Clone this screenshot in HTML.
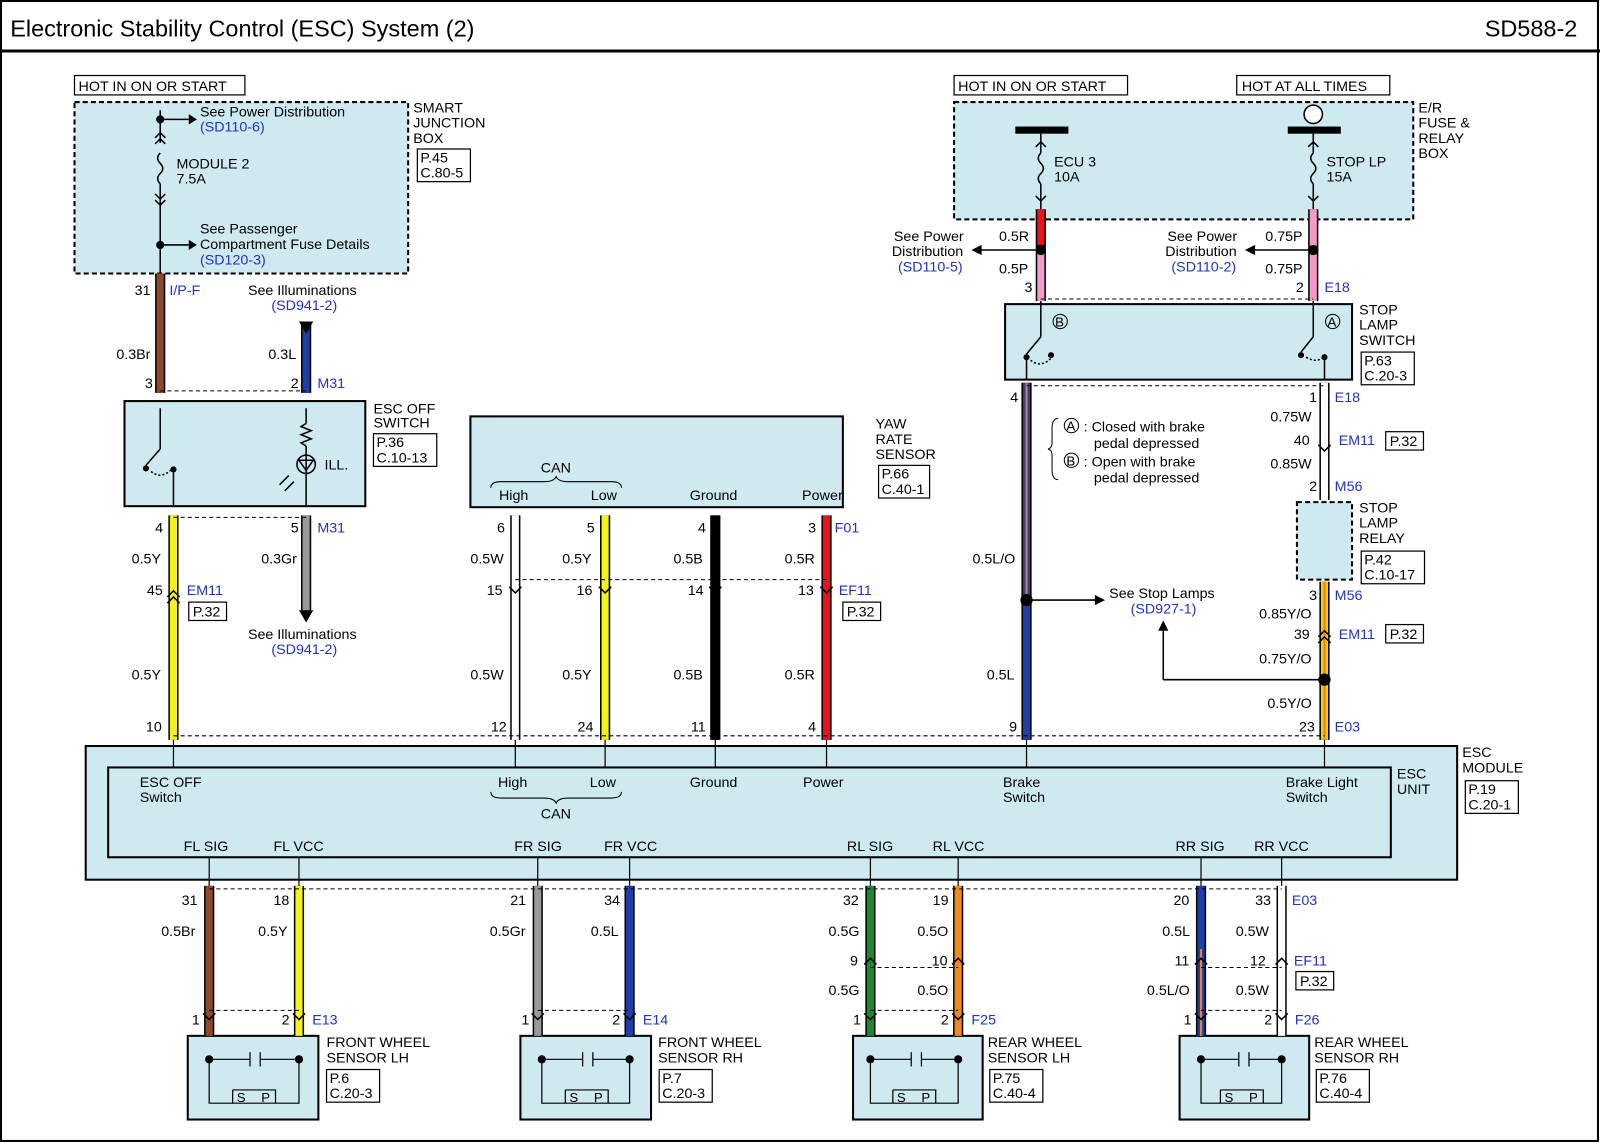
<!DOCTYPE html>
<html><head><meta charset="utf-8"><style>
html,body{margin:0;padding:0;background:#fff}
svg{display:block}
text{font-family:"Liberation Sans",Arial,sans-serif;font-size:14px;fill:#000}
.b{fill:#2233bb}
.s{font-size:13px}
</style></head><body>
<svg width="1600" height="1143" viewBox="0 0 1568 1120" preserveAspectRatio="none" xmlns="http://www.w3.org/2000/svg">
<rect x="1" y="1" width="1565" height="1117" fill="#fff" stroke="#000" stroke-width="2"/>
<text x="10" y="36" style="font-size:23px">Electronic Stability Control (ESC) System (2)</text>
<text x="1455" y="36" style="font-size:23px">SD588-2</text>
<line x1="0" y1="50" x2="1568" y2="50" stroke="#000" stroke-width="3"/>

<g fill="#cfe9f1" stroke="#000" stroke-width="2">
<rect x="73" y="100" width="327" height="168" stroke-dasharray="5,3"/>
<rect x="935" y="100" width="450" height="115" stroke-dasharray="5,3"/>
<rect x="122" y="393" width="236" height="103"/>
<rect x="461" y="408" width="365" height="89"/>
<rect x="985" y="298" width="340" height="74"/>
<rect x="1271" y="492" width="54" height="76" stroke-dasharray="5,3"/>
<rect x="84" y="731" width="1344" height="131"/>
<rect x="106" y="752" width="1257" height="88"/>
<rect x="184" y="1015" width="128" height="82"/>
<rect x="510" y="1015" width="128" height="82"/>
<rect x="836" y="1015" width="127" height="82"/>
<rect x="1156" y="1015" width="127" height="82"/>
</g>
<g fill="#fff" stroke="#000" stroke-width="1.2">
<rect x="73" y="74" width="167" height="19"/>
<rect x="935" y="74" width="170" height="19"/>
<rect x="1212" y="74" width="150" height="19"/>
<rect x="409" y="146" width="52" height="32"/>
<rect x="366" y="425" width="62" height="32"/>
<rect x="861" y="456" width="50" height="32"/>
<rect x="1334" y="345" width="52" height="32"/>
<rect x="1334" y="540" width="62" height="32"/>
<rect x="185" y="590" width="37" height="18"/>
<rect x="826" y="590" width="37" height="18"/>
<rect x="1358" y="423" width="37" height="18"/>
<rect x="1358" y="612" width="37" height="18"/>
<rect x="1436" y="765" width="52" height="32"/>
<rect x="1270" y="952" width="37" height="18"/>
<rect x="320" y="1048" width="52" height="32"/>
<rect x="646" y="1048" width="52" height="32"/>
<rect x="970" y="1048" width="52" height="32"/>
<rect x="1290" y="1048" width="52" height="32"/>
</g>
<text x="77" y="89">HOT IN ON OR START</text>
<text x="939" y="89">HOT IN ON OR START</text>
<text x="1217" y="89">HOT AT ALL TIMES</text>
<g class="s">
<text x="412" y="159">P.45</text><text x="412" y="174">C.80-5</text>
<text x="369" y="438">P.36</text><text x="369" y="453">C.10-13</text>
<text x="864" y="469">P.66</text><text x="864" y="484">C.40-1</text>
<text x="1337" y="358">P.63</text><text x="1337" y="373">C.20-3</text>
<text x="1337" y="553">P.42</text><text x="1337" y="568">C.10-17</text>
<text x="189" y="604">P.32</text><text x="830" y="604">P.32</text>
<text x="1362" y="437">P.32</text><text x="1362" y="626">P.32</text>
<text x="1439" y="778">P.19</text><text x="1439" y="793">C.20-1</text>
<text x="1274" y="966">P.32</text>
<text x="323" y="1061">P.6</text><text x="323" y="1076">C.20-3</text>
<text x="649" y="1061">P.7</text><text x="649" y="1076">C.20-3</text>
<text x="973" y="1061">P.75</text><text x="973" y="1076">C.40-4</text>
<text x="1293" y="1061">P.76</text><text x="1293" y="1076">C.40-4</text>
</g>
<text x="405" y="110">SMART</text><text x="405" y="125">JUNCTION</text><text x="405" y="140">BOX</text>
<text x="366" y="405">ESC OFF</text><text x="366" y="419">SWITCH</text>
<text x="858" y="420">YAW</text><text x="858" y="435">RATE</text><text x="858" y="450">SENSOR</text>
<text x="1390" y="110">E/R</text><text x="1390" y="125">FUSE &amp;</text><text x="1390" y="140">RELAY</text><text x="1390" y="155">BOX</text>
<text x="1332" y="308">STOP</text><text x="1332" y="323">LAMP</text><text x="1332" y="338">SWITCH</text>
<text x="1332" y="502">STOP</text><text x="1332" y="517">LAMP</text><text x="1332" y="532">RELAY</text>
<text x="1433" y="742">ESC</text><text x="1433" y="757">MODULE</text>
<text x="1369" y="763">ESC</text><text x="1369" y="778">UNIT</text>
<text x="320" y="1026">FRONT WHEEL</text><text x="320" y="1041">SENSOR LH</text>
<text x="645" y="1026">FRONT WHEEL</text><text x="645" y="1041">SENSOR RH</text>
<text x="968" y="1026">REAR WHEEL</text><text x="968" y="1041">SENSOR LH</text>
<text x="1288" y="1026">REAR WHEEL</text><text x="1288" y="1041">SENSOR RH</text>

<g stroke="#000" stroke-width="1.5" fill="none">
<line x1="157" y1="108" x2="157" y2="140"/><path d="M157 150 q-5 5 0 10 q5 5 0 10 q-5 5 0 10"/>
<line x1="157" y1="180" x2="157" y2="268"/>
<path d="M152 135 l5 -5 l5 5 M152 141 l5 -5 l5 5 M152 190 l5 5 l5 -5 M152 196 l5 5 l5 -5"/>
<line x1="157" y1="117" x2="185" y2="117"/><line x1="157" y1="240" x2="185" y2="240"/>
</g>
<circle cx="157" cy="117" r="4"/><circle cx="157" cy="240" r="4"/>
<path d="M185 112 l8 5 l-8 5z M185 235 l8 5 l-8 5z"/>
<text x="196" y="114">See Power Distribution</text><text class="b" x="196" y="129">(SD110-6)</text>
<text x="173" y="165">MODULE 2</text><text x="173" y="180">7.5A</text>
<text x="196" y="229">See Passenger</text><text x="196" y="244">Compartment Fuse Details</text><text class="b" x="196" y="259">(SD120-3)</text>

<rect x="995" y="124" width="52" height="7"/><rect x="1262" y="124" width="52" height="7"/>
<circle cx="1287" cy="112" r="9" fill="#fff" stroke="#000" stroke-width="1.5"/>
<g stroke="#000" stroke-width="1.5" fill="none">
<line x1="1020" y1="131" x2="1020" y2="150"/><path d="M1020 150 q-5 5 0 10 q5 5 0 10 q-5 5 0 10"/><line x1="1020" y1="180" x2="1020" y2="205"/>
<line x1="1287" y1="131" x2="1287" y2="150"/><path d="M1287 150 q-5 5 0 10 q5 5 0 10 q-5 5 0 10"/><line x1="1287" y1="180" x2="1287" y2="205"/>
<path d="M1015 144 l5 -5 l5 5 M1015 192 l5 5 l5 -5 M1282 144 l5 -5 l5 5 M1282 192 l5 5 l5 -5"/>
</g>
<text x="1033" y="163">ECU 3</text><text x="1033" y="178">10A</text>
<text x="1300" y="163">STOP LP</text><text x="1300" y="178">15A</text>

<g stroke-linecap="butt">
<g stroke="#000" stroke-width="10">
<line x1="157" y1="268" x2="157" y2="385"/><line x1="300" y1="318" x2="300" y2="385"/>
<line x1="170" y1="505" x2="170" y2="725"/><line x1="300" y1="505" x2="300" y2="598"/>
<line x1="505" y1="505" x2="505" y2="725"/><line x1="593" y1="505" x2="593" y2="725"/>
<line x1="701" y1="505" x2="701" y2="725"/><line x1="810" y1="505" x2="810" y2="725"/>
<line x1="1020" y1="205" x2="1020" y2="295"/><line x1="1287" y1="205" x2="1287" y2="295"/>
<line x1="1006" y1="375" x2="1006" y2="725"/><line x1="1298" y1="375" x2="1298" y2="490"/>
<line x1="1298" y1="570" x2="1298" y2="725"/>
<line x1="205" y1="868" x2="205" y2="1015"/><line x1="293" y1="868" x2="293" y2="1015"/>
<line x1="527" y1="868" x2="527" y2="1015"/><line x1="617" y1="868" x2="617" y2="1015"/>
<line x1="853" y1="868" x2="853" y2="1015"/><line x1="939" y1="868" x2="939" y2="1015"/>
<line x1="1177" y1="868" x2="1177" y2="1015"/><line x1="1256" y1="868" x2="1256" y2="1015"/>
</g>
<g stroke-width="7">
<line x1="157" y1="268" x2="157" y2="385" stroke="#8b4a2b"/><line x1="300" y1="318" x2="300" y2="385" stroke="#1f3fa8"/>
<line x1="170" y1="505" x2="170" y2="725" stroke="#f5f020"/><line x1="300" y1="505" x2="300" y2="598" stroke="#9a9a9a"/>
<line x1="505" y1="505" x2="505" y2="725" stroke="#fff"/><line x1="593" y1="505" x2="593" y2="725" stroke="#f5f020"/>
<line x1="701" y1="505" x2="701" y2="725" stroke="#000"/><line x1="810" y1="505" x2="810" y2="725" stroke="#e8141a"/>
<line x1="1020" y1="205" x2="1020" y2="240" stroke="#e8141a"/><line x1="1020" y1="248" x2="1020" y2="295" stroke="#f29ac8"/>
<line x1="1287" y1="205" x2="1287" y2="295" stroke="#f29ac8"/>
<line x1="1006" y1="375" x2="1006" y2="588" stroke="#1f3fa8"/><line x1="1006" y1="375" x2="1006" y2="588" stroke="#e8841a" stroke-width="2"/>
<line x1="1006" y1="592" x2="1006" y2="725" stroke="#1f3fa8"/>
<line x1="1298" y1="375" x2="1298" y2="490" stroke="#fff"/>
<line x1="1298" y1="570" x2="1298" y2="725" stroke="#f5c81a"/><line x1="1298" y1="570" x2="1298" y2="725" stroke="#e8841a" stroke-width="2"/>
<line x1="205" y1="868" x2="205" y2="1015" stroke="#8b4a2b"/><line x1="293" y1="868" x2="293" y2="1015" stroke="#f5f020"/>
<line x1="527" y1="868" x2="527" y2="1015" stroke="#9a9a9a"/><line x1="617" y1="868" x2="617" y2="1015" stroke="#1f3fa8"/>
<line x1="853" y1="868" x2="853" y2="1015" stroke="#1b8a2e"/><line x1="939" y1="868" x2="939" y2="1015" stroke="#f08a1a"/>
<line x1="1177" y1="868" x2="1177" y2="1015" stroke="#1f3fa8"/><line x1="1177" y1="930" x2="1177" y2="1015" stroke="#e8841a" stroke-width="2"/>
<line x1="1256" y1="868" x2="1256" y2="1015" stroke="#fff"/>
</g>
</g>
<path d="M293 315 l7 12 l7 -12z M293 598 l7 12 l7 -12z"/>
<g stroke="#000" stroke-width="1" stroke-dasharray="4,3">
<line x1="157" y1="383" x2="300" y2="383"/><line x1="170" y1="507" x2="300" y2="507"/>
<line x1="505" y1="568" x2="810" y2="568"/><line x1="170" y1="721" x2="1298" y2="721"/>
<line x1="1006" y1="378" x2="1298" y2="378"/><line x1="1020" y1="293" x2="1287" y2="293"/>
<line x1="205" y1="871" x2="1256" y2="871"/><line x1="853" y1="948" x2="939" y2="948"/>
<line x1="1177" y1="948" x2="1256" y2="948"/>
<line x1="205" y1="990" x2="293" y2="990"/><line x1="527" y1="990" x2="617" y2="990"/>
<line x1="853" y1="990" x2="939" y2="990"/><line x1="1177" y1="990" x2="1256" y2="990"/>
</g>
<g stroke="#000" stroke-width="1.5" fill="none">
<path d="M164 585 l6 -6 l6 6 M164 591 l6 -6 l6 6 M499 575 l6 6 l6 -6 M587 575 l6 6 l6 -6 M695 575 l6 6 l6 -6 M804 575 l6 6 l6 -6"/>
<path d="M1292 436 l6 6 l6 -6 M1292 630 l6 -6 l6 6 M1292 624 l6 -6 l6 6"/>
<path d="M847 945 l6 -6 l6 6 M933 945 l6 -6 l6 6 M1171 945 l6 -6 l6 6 M1250 945 l6 -6 l6 6"/>
<path d="M199 993 l6 6 l6 -6 M287 993 l6 6 l6 -6 M521 993 l6 6 l6 -6 M611 993 l6 6 l6 -6 M847 993 l6 6 l6 -6 M933 993 l6 6 l6 -6 M1171 993 l6 6 l6 -6 M1250 993 l6 6 l6 -6"/>
</g>
<g stroke="#000" stroke-width="1.2">
<line x1="170" y1="725" x2="170" y2="752"/><line x1="505" y1="725" x2="505" y2="752"/><line x1="593" y1="725" x2="593" y2="752"/>
<line x1="701" y1="725" x2="701" y2="752"/><line x1="810" y1="725" x2="810" y2="752"/><line x1="1006" y1="725" x2="1006" y2="752"/><line x1="1298" y1="725" x2="1298" y2="752"/>
<line x1="205" y1="840" x2="205" y2="868"/><line x1="293" y1="840" x2="293" y2="868"/><line x1="527" y1="840" x2="527" y2="868"/><line x1="617" y1="840" x2="617" y2="868"/>
<line x1="853" y1="840" x2="853" y2="868"/><line x1="939" y1="840" x2="939" y2="868"/><line x1="1177" y1="840" x2="1177" y2="868"/><line x1="1256" y1="840" x2="1256" y2="868"/>
</g>
<circle cx="1020" cy="245" r="5"/><circle cx="1287" cy="245" r="5"/><circle cx="1006" cy="588" r="6"/><circle cx="1298" cy="666" r="6"/>
<g stroke="#000" stroke-width="1.5"><line x1="960" y1="245" x2="1015" y2="245"/><line x1="1228" y1="245" x2="1282" y2="245"/>
<line x1="1006" y1="588" x2="1075" y2="588"/><line x1="1298" y1="666" x2="1140" y2="666"/><line x1="1140" y1="666" x2="1140" y2="618"/></g>
<path d="M952 245 l10 -5 v10z M1220 245 l10 -5 v10z M1083 588 l-10 -5 v10z M1140 608 l-5 10 h10z"/>

<text x="132" y="289">31</text><text class="b" x="166" y="289">I/P-F</text>
<text x="243" y="289">See Illuminations</text><text class="b" x="266" y="304">(SD941-2)</text>
<text x="114" y="352">0.3Br</text><text x="263" y="352">0.3L</text>
<text x="142" y="380">3</text><text x="285" y="380">2</text><text class="b" x="311" y="380">M31</text>
<text x="152" y="522">4</text><text x="285" y="522">5</text><text class="b" x="311" y="522">M31</text>
<text x="129" y="552">0.5Y</text><text x="256" y="552">0.3Gr</text>
<text x="144" y="583">45</text><text class="b" x="183" y="583">EM11</text>
<text x="243" y="626">See Illuminations</text><text class="b" x="266" y="641">(SD941-2)</text>
<text x="129" y="666">0.5Y</text><text x="143" y="717">10</text>
<text x="487" y="522">6</text><text x="575" y="522">5</text><text x="684" y="522">4</text><text x="792" y="522">3</text><text class="b" x="818" y="522">F01</text>
<text x="461" y="552">0.5W</text><text x="551" y="552">0.5Y</text><text x="660" y="552">0.5B</text><text x="769" y="552">0.5R</text>
<text x="477" y="583">15</text><text x="565" y="583">16</text><text x="674" y="583">14</text><text x="782" y="583">13</text><text class="b" x="822" y="583">EF11</text>
<text x="461" y="666">0.5W</text><text x="551" y="666">0.5Y</text><text x="660" y="666">0.5B</text><text x="769" y="666">0.5R</text>
<text x="481" y="717">12</text><text x="566" y="717">24</text><text x="677" y="717">11</text><text x="792" y="717">4</text>
<text x="530" y="463">CAN</text><text x="489" y="490">High</text><text x="579" y="490">Low</text><text x="676" y="490">Ground</text><text x="786" y="490" textLength="40">Power</text>
<path d="M481 478 q0 -6 10 -6 h42 q10 0 12 -5 q2 5 12 5 h42 q10 0 10 6" fill="none" stroke="#000"/>
<text x="876" y="236">See Power</text><text x="874" y="251">Distribution</text><text class="b" x="880" y="266">(SD110-5)</text>
<text x="979" y="236">0.5R</text><text x="979" y="268">0.5P</text><text x="1004" y="286">3</text>
<text x="1144" y="236">See Power</text><text x="1142" y="251">Distribution</text><text class="b" x="1148" y="266">(SD110-2)</text>
<text x="1240" y="236">0.75P</text><text x="1240" y="268">0.75P</text><text x="1270" y="286">2</text><text class="b" x="1298" y="286">E18</text>
<text x="990" y="394">4</text><text x="1283" y="394">1</text><text class="b" x="1308" y="394">E18</text>
<text x="1245" y="413">0.75W</text><text x="1268" y="436">40</text><text class="b" x="1312" y="436">EM11</text>
<text x="1245" y="459">0.85W</text><text x="1283" y="481">2</text><text class="b" x="1308" y="481">M56</text>
<text x="1283" y="588">3</text><text class="b" x="1308" y="588">M56</text>
<text x="1234" y="606">0.85Y/O</text><text x="1268" y="626">39</text><text class="b" x="1312" y="626">EM11</text>
<text x="1234" y="650">0.75Y/O</text><text x="1242" y="694">0.5Y/O</text>
<text x="1273" y="717">23</text><text class="b" x="1308" y="717">E03</text>
<text x="953" y="552">0.5L/O</text><text x="967" y="666">0.5L</text><text x="989" y="717">9</text>
<text x="1087" y="586">See Stop Lamps</text><text class="b" x="1108" y="601">(SD927-1)</text>
<path d="M1037 410 q-6 0 -6 10 v14 q0 5 -4 6 q4 1 4 6 v14 q0 10 6 10" fill="none" stroke="#000"/>
<circle cx="1050" cy="417" r="7" fill="none" stroke="#000"/><text x="1045" y="422" class="s">A</text>
<text x="1062" y="423">: Closed with brake</text><text x="1072" y="439">pedal depressed</text>
<circle cx="1050" cy="451" r="7" fill="none" stroke="#000"/><text x="1045" y="456" class="s">B</text>
<text x="1062" y="457">: Open with brake</text><text x="1072" y="473">pedal depressed</text>
<g stroke="#000" stroke-width="1.5" fill="none">
<line x1="157" y1="400" x2="157" y2="440"/><line x1="157" y1="440" x2="143" y2="456"/><path d="M148 462 q10 8 20 -2" stroke-dasharray="2,2"/>
<line x1="170" y1="463" x2="170" y2="496"/><line x1="300" y1="400" x2="300" y2="415"/>
<path d="M300 415 l-5 3 l10 4 l-10 4 l10 4 l-10 4 l5 3"/><line x1="300" y1="437" x2="300" y2="496"/>
<circle cx="300" cy="455" r="9"/><path d="M293 451 h14 l-7 10z"/>
<path d="M283 466 l-9 9 M288 472 l-9 9"/>
<line x1="1020" y1="295" x2="1020" y2="330"/><line x1="1020" y1="330" x2="1006" y2="347"/><path d="M1010 353 q10 8 20 -2" stroke-dasharray="2,2"/><line x1="1006" y1="350" x2="1006" y2="372"/>
<line x1="1287" y1="295" x2="1287" y2="330"/><line x1="1287" y1="330" x2="1275" y2="345"/><path d="M1280 350 q10 6 17 0" stroke-dasharray="2,2"/><line x1="1298" y1="350" x2="1298" y2="372"/>
</g>
<circle cx="143" cy="459" r="3"/><circle cx="170" cy="460" r="3"/><circle cx="1006" cy="350" r="3"/><circle cx="1030" cy="348" r="3"/><circle cx="1275" cy="348" r="3"/><circle cx="1298" cy="350" r="3"/>
<text x="318" y="460">ILL.</text>
<circle cx="1039" cy="315" r="7" fill="none" stroke="#000"/><text x="1034" y="320" class="s">B</text>
<circle cx="1306" cy="315" r="7" fill="none" stroke="#000"/><text x="1301" y="320" class="s">A</text>
<text x="137" y="771">ESC OFF</text><text x="137" y="786">Switch</text>
<text x="488" y="771">High</text><text x="578" y="771">Low</text><text x="676" y="771">Ground</text><text x="787" y="771">Power</text>
<text x="983" y="771">Brake</text><text x="983" y="786">Switch</text>
<text x="1260" y="771">Brake Light</text><text x="1260" y="786">Switch</text>
<path d="M481 776 q0 6 10 6 h42 q10 0 12 5 q2 -5 12 -5 h42 q10 0 10 -6" fill="none" stroke="#000"/>
<text x="530" y="802">CAN</text>
<text x="180" y="834">FL SIG</text><text x="268" y="834">FL VCC</text><text x="504" y="834">FR SIG</text><text x="592" y="834">FR VCC</text>
<text x="830" y="834">RL SIG</text><text x="914" y="834">RL VCC</text><text x="1152" y="834">RR SIG</text><text x="1229" y="834">RR VCC</text>
<text x="178" y="887">31</text><text x="268" y="887">18</text><text x="500" y="887">21</text><text x="592" y="887">34</text>
<text x="826" y="887">32</text><text x="914" y="887">19</text><text x="1150" y="887">20</text><text x="1230" y="887">33</text><text class="b" x="1266" y="887">E03</text>
<text x="158" y="917">0.5Br</text><text x="253" y="917">0.5Y</text><text x="480" y="917">0.5Gr</text><text x="579" y="917">0.5L</text>
<text x="812" y="917">0.5G</text><text x="899" y="917">0.5O</text><text x="1139" y="917">0.5L</text><text x="1211" y="917">0.5W</text>
<text x="833" y="946">9</text><text x="913" y="946">10</text><text x="1151" y="946">11</text><text x="1225" y="946">12</text><text class="b" x="1268" y="946">EF11</text>
<text x="812" y="975">0.5G</text><text x="899" y="975">0.5O</text><text x="1124" y="975">0.5L/O</text><text x="1211" y="975">0.5W</text>
<text x="188" y="1004">1</text><text x="276" y="1004">2</text><text class="b" x="306" y="1004">E13</text>
<text x="511" y="1004">1</text><text x="600" y="1004">2</text><text class="b" x="630" y="1004">E14</text>
<text x="836" y="1004">1</text><text x="922" y="1004">2</text><text class="b" x="952" y="1004">F25</text>
<text x="1160" y="1004">1</text><text x="1239" y="1004">2</text><text class="b" x="1269" y="1004">F26</text>
<g fill="none" stroke="#000" stroke-width="1.2">
<path d="M205 1038 h40 M255 1038 h38 M245 1031 v14 M255 1031 v14 M205 1038 v43 h88 v-43 M228 1068 h42 v13 M228 1068 v13"/>
<path d="M531 1038 h40 M581 1038 h36 M571 1031 v14 M581 1031 v14 M531 1038 v43 h86 v-43 M554 1068 h42 v13 M554 1068 v13"/>
<path d="M853 1038 h40 M903 1038 h36 M893 1031 v14 M903 1031 v14 M853 1038 v43 h86 v-43 M875 1068 h42 v13 M875 1068 v13"/>
<path d="M1177 1038 h37 M1224 1038 h32 M1214 1031 v14 M1224 1031 v14 M1177 1038 v43 h79 v-43 M1196 1068 h42 v13 M1196 1068 v13"/>
</g>
<g><circle cx="205" cy="1038" r="4"/><circle cx="293" cy="1038" r="4"/><circle cx="531" cy="1038" r="4"/><circle cx="617" cy="1038" r="4"/>
<circle cx="853" cy="1038" r="4"/><circle cx="939" cy="1038" r="4"/><circle cx="1177" cy="1038" r="4"/><circle cx="1256" cy="1038" r="4"/></g>
<text x="232" y="1080" class="s">S</text><text x="256" y="1080" class="s">P</text>
<text x="558" y="1080" class="s">S</text><text x="582" y="1080" class="s">P</text>
<text x="879" y="1080" class="s">S</text><text x="903" y="1080" class="s">P</text>
<text x="1200" y="1080" class="s">S</text><text x="1224" y="1080" class="s">P</text>
</svg>
</body></html>
